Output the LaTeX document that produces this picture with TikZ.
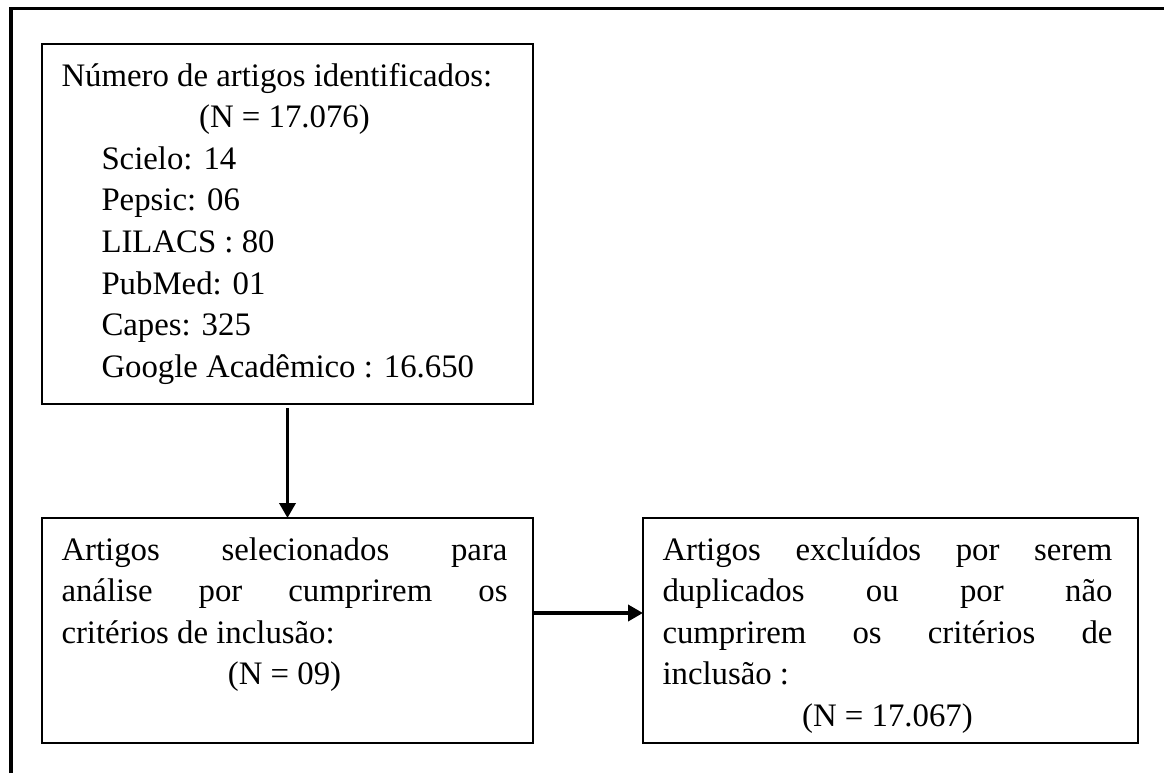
\documentclass[tikz,border=0pt]{standalone}
\usepackage{fontspec}
\setmainfont{Liberation Serif}
\usetikzlibrary{arrows.meta,positioning}

% caixa de texto: largura, altura, conteudo
\newcommand{\caixatexto}[3]{%
  \parbox[t][#2][t]{#1}{\fontsize{16.4pt}{20.8pt}\selectfont
    \leftskip=9.75pt \rightskip=12.75pt \parindent=0pt
    \rule{0pt}{21pt}#3}}
\newcommand{\centrado}[1]{\hspace*{\fill}#1\hspace*{\fill}}

\begin{document}
\begin{tikzpicture}[x=0.5pt,y=-0.5pt,
  caixa/.style={draw,line width=1.2pt,inner sep=0pt,outer sep=0pt},
  seta/.style={-{Triangle[length=7.5pt,width=8pt]},line width=1.8pt}]
\useasboundingbox (0,0) rectangle (1164,773);

% moldura
\draw[line width=1.75pt] (11,773) -- (11,8.5) -- (1164,8.5);

\node[caixa,anchor=north west] (identificados) at (42,44) {\caixatexto{245.5pt}{180pt}{%
  Número de artigos identificados:\\
  \centrado{(N = 17.076)}\\
  \hspace*{20pt}Scielo: 14\\
  \hspace*{20pt}Pepsic: 06\\
  \hspace*{20pt}LILACS : 80\\
  \hspace*{20pt}PubMed: 01\\
  \hspace*{20pt}Capes: 325\\
  \hspace*{20pt}Google Acadêmico : 16.650}};

\node[caixa,below=57pt of identificados] (selecionados) {\caixatexto{245.5pt}{112.5pt}{%
  Artigos selecionados para\linebreak
  análise por cumprirem os\linebreak
  critérios de inclusão:\\
  \centrado{(N = 09)}}};

\node[caixa,right=55pt of selecionados] (excluidos) {\caixatexto{247.5pt}{112.5pt}{%
  Artigos excluídos por serem\linebreak
  duplicados ou por não\linebreak
  cumprirem os critérios de\linebreak
  inclusão :\\
  \centrado{(N = 17.067)}}};

\draw[seta,shorten <=2pt] (identificados.south) -- (selecionados.north);
\draw[seta] ([yshift=8.75pt]selecionados.east) -- ([yshift=8.75pt]excluidos.west);

\end{tikzpicture}
\end{document}
